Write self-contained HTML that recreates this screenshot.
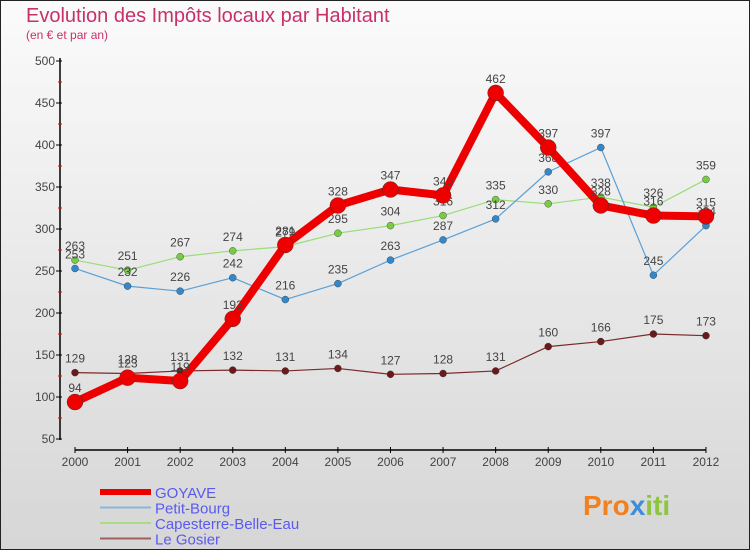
<!DOCTYPE html>
<html><head><meta charset="utf-8"><style>
body{margin:0;background:#fff}
#wrap{position:relative;width:750px;height:550px;overflow:hidden}
svg text{font-family:"Liberation Sans",sans-serif}
</style></head><body>
<div id="wrap">
<svg id="c" width="750" height="550" xmlns="http://www.w3.org/2000/svg">
<defs><linearGradient id="bg" x1="0" y1="0" x2="0" y2="1"><stop offset="0" stop-color="#fbfbfb"/><stop offset="1" stop-color="#d6d6d6"/></linearGradient></defs>
<rect x="0.5" y="0.5" width="749" height="549" fill="url(#bg)" stroke="#222"/>
<text x="26" y="22" font-size="20" fill="#c8306a">Evolution des Impôts locaux par Habitant</text>
<text x="26" y="39" font-size="12" fill="#c8306a">(en € et par an)</text>
<g id="axes"></g><g id="series"></g><g id="legend"></g>
<text x="583" y="515" font-size="28" font-weight="bold" fill="#f08020">Pro<tspan fill="#3a8fd8">x</tspan><tspan fill="#8cc63f">iti</tspan></text>
</svg></div>
<script>
const years=[2000,2001,2002,2003,2004,2005,2006,2007,2008,2009,2010,2011,2012];
const goyave=[94,123,119,193,281,328,347,340,462,397,328,316,315];
const petitBourg=[253,232,226,242,216,235,263,287,312,368,397,245,304];
const capesterre=[263,251,267,274,279,295,304,316,335,330,338,326,359];
const gosier=[129,128,131,132,131,134,127,128,131,160,166,175,173];
const yTicks=[50,100,150,200,250,300,350,400,450,500];
const NS="http://www.w3.org/2000/svg";
const X=i=>75+i*52.58;
const Y=v=>61+(500-v)*0.84;
function mk(t,a,p){const e=document.createElementNS(NS,t);for(const k in a)e.setAttribute(k,a[k]);p.appendChild(e);return e;}
const ax=document.getElementById('axes');
let l=mk('line',{x1:60,y1:58,x2:60,y2:440,stroke:'#000','stroke-width':1.5},ax);


yTicks.forEach(v=>{
 mk('line',{x1:56,y1:Y(v),x2:62,y2:Y(v),stroke:'#000'},ax);
 if(v<500)mk('line',{x1:58,y1:Y(v+25),x2:62,y2:Y(v+25),stroke:'#e00'},ax);
 const t=mk('text',{x:55,y:Y(v)+4,'font-size':12,fill:'#444','text-anchor':'end'},ax);t.textContent=v;
 
 
});
l=mk('line',{x1:X(0),y1:450,x2:X(12),y2:450,stroke:'#000','stroke-width':1.5},ax);


years.forEach((y,i)=>{
 mk('line',{x1:X(i),y1:447,x2:X(i),y2:453,stroke:'#000'},ax);
 const t=mk('text',{x:X(i),y:466,'font-size':12,fill:'#444','text-anchor':'middle'},ax);t.textContent=y;
 
 
});
const sg=document.getElementById('series');
function draw(data,color,w,r,dot,name){
 const g=mk('g',{},sg);
 
 
 mk('polyline',{points:data.map((v,i)=>X(i)+','+Y(v)).join(' '),fill:'none',stroke:color,'stroke-width':w,'stroke-linejoin':'round'},g);
 data.forEach((v,i)=>{
  const c=mk('circle',{cx:X(i),cy:Y(v),r:r,fill:dot,stroke:'#333','stroke-width':0.4},g);
  
  
  const t=mk('text',{x:X(i),y:Y(v)-10,'font-size':12,fill:'#444','text-anchor':'middle'},g);t.textContent=v;
  
  
 });
}
draw(gosier,'#7a2a2a',1.2,3.5,'#6a1a1a','le-gosier');
draw(capesterre,'#99dd77',1.2,3.5,'#77cc44','capesterre');
draw(petitBourg,'#5aa0d8',1.2,3.5,'#3388cc','petit-bourg');
draw(goyave,'#ee0000',8,8,'#ee0000','goyave');
const lg=document.getElementById('legend');
[['GOYAVE','#ee0000',6],['Petit-Bourg','#88b8d8',2],['Capesterre-Belle-Eau','#a8dd88',2],['Le Gosier','#a06060',2]].forEach((d,i)=>{
 const y=492+i*15.5;
 const g=mk('g',{},lg);
 
 
 mk('line',{x1:100,y1:y,x2:151,y2:y,stroke:d[1],'stroke-width':d[2]},g);
 const t=mk('text',{x:155,y:y+6,'font-size':15,fill:'#5a5aee'},g);t.textContent=d[0];
});
</script>
</body></html>
